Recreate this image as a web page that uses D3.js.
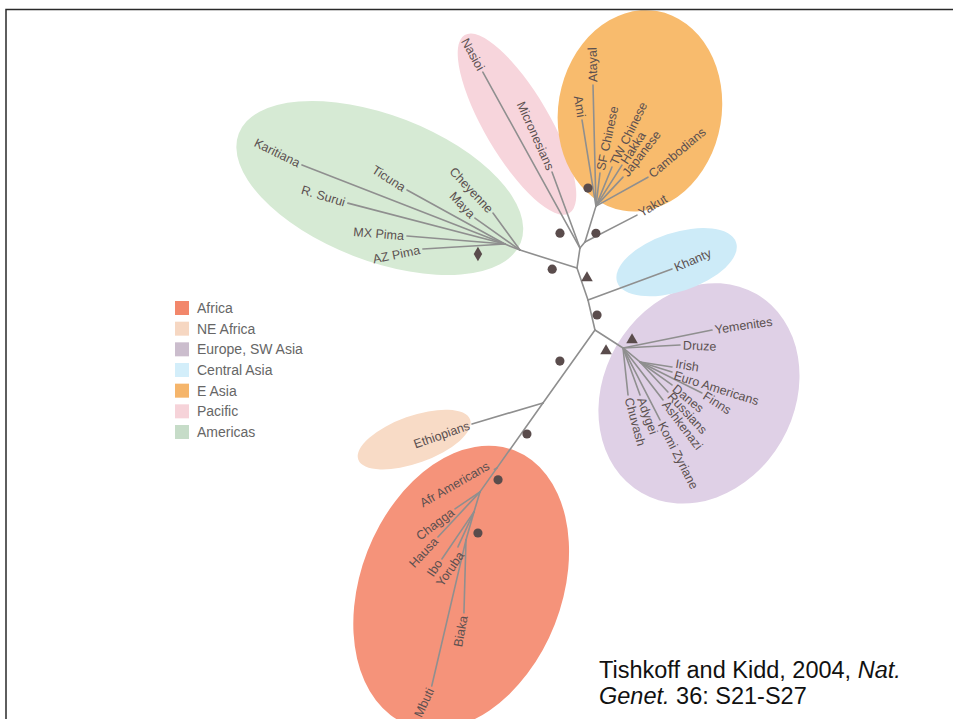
<!DOCTYPE html>
<html>
<head>
<meta charset="utf-8">
<script src="https://cdn.jsdelivr.net/npm/d3@7"></script>
<style>
  body { margin: 0; background: #fff; }
  svg { display: block; font-family: "Liberation Sans", Arial, sans-serif; }
</style>
</head>
<body>
<svg id="chart" width="953" height="719"></svg>
<script>
// ---- data -------------------------------------------------------------

// population groups, legend order
const groups = ["Africa", "NE Africa", "Europe, SW Asia", "Central Asia", "E Asia", "Pacific", "Americas"];

// internal nodes of the unrooted tree: [id, parent, branch length, direction (deg, ccw from east)]
const innerNodes = [
  ["R", null, 0, 0],
  ["N1", "R", 0.338, 109.0],
  ["N2", "N1", 0.202, 81.5],
  ["N3", "N2", 0.078, 50.2],
  ["EAhub", "N3", 0.376, 73.0],
  ["AM1", "N1", 0.598, 162.5],
  ["AM2", "AM1", 0.162, 158.2],
  ["N4", "R", 0.308, -76.9],
  ["EU", "N4", 0.333, -32.7],
  ["EU2", "EU", 0.220, -39.5],
  ["E", "N4", 0.896, 234.5],
  ["M", "E", 0.796, 234.7],
  ["AF1", "M", 0.294, 234.7],
  ["AF2", "AF1", 0.209, 253.3],
  ["AF3", "AF2", 0.291, 254.1]
];
const innerGroup = {
  EAhub: "E Asia", AM1: "Americas", AM2: "Americas",
  EU: "Europe, SW Asia", EU2: "Europe, SW Asia",
  M: "Africa", AF1: "Africa", AF2: "Africa", AF3: "Africa"
};

// populations (leaves): [name, parent, branch length, direction, group]
const leaves = [
  ["Nasioi", "N2", 2.010, 118.9, "Pacific"],
  ["Micronesians", "N2", 0.810, 110.2, "Pacific"],
  ["Yakut", "N3", 0.586, 27.4, "E Asia"],
  ["Atayal", "EAhub", 1.210, 91.4, "E Asia"],
  ["Ami", "EAhub", 0.871, 99.2, "E Asia"],
  ["SF Chinese", "EAhub", 0.332, 83.1, "E Asia"],
  ["TW Chinese", "EAhub", 0.422, 67.7, "E Asia"],
  ["Hakka", "EAhub", 0.485, 57.6, "E Asia"],
  ["Japanese", "EAhub", 0.396, 47.0, "E Asia"],
  ["Cambodians", "EAhub", 0.595, 29.1, "E Asia"],
  ["Khanty", "R", 0.895, 20.3, "Central Asia"],
  ["Cheyenne", "AM1", 0.458, 126.1, "Americas"],
  ["Maya", "AM1", 0.552, 144.6, "Americas"],
  ["Karitiana", "AM2", 2.178, 158.7, "Americas"],
  ["Ticuna", "AM2", 1.119, 151.1, "Americas"],
  ["R. Surui", "AM2", 1.623, 165.4, "Americas"],
  ["MX Pima", "AM2", 0.983, 175.3, "Americas"],
  ["AZ Pima", "AM2", 0.822, 183.5, "Americas"],
  ["Yemenites", "EU", 0.908, 11.4, "Europe, SW Asia"],
  ["Druze", "EU", 0.571, 3.0, "Europe, SW Asia"],
  ["Irish", "EU2", 0.324, -8.9, "Europe, SW Asia"],
  ["Euro Americans", "EU2", 0.335, -17.4, "Europe, SW Asia"],
  ["Finns", "EU2", 0.693, -26.6, "Europe, SW Asia"],
  ["Danes", "EU2", 0.394, -35.7, "Europe, SW Asia"],
  ["Russians", "EU2", 0.410, -47.0, "Europe, SW Asia"],
  ["Ashkenazi", "EU", 0.656, -52.4, "Europe, SW Asia"],
  ["Komi Zyriane", "EU", 0.809, -62.8, "Europe, SW Asia"],
  ["Adygei", "EU", 0.500, -70.1, "Europe, SW Asia"],
  ["Chuvash", "EU", 0.473, -83.9, "Europe, SW Asia"],
  ["Ethiopians", "E", 0.740, 196.5, "NE Africa"],
  ["Afr Americans", "M", 0.030, 210.0, "Africa"],
  ["Chagga", "AF1", 0.302, 214.2, "Africa"],
  ["Hausa", "AF1", 0.616, 227.0, "Africa"],
  ["Ibo", "AF2", 0.569, 235.7, "Africa"],
  ["Yoruba", "AF2", 0.385, 245.4, "Africa"],
  ["Biaka", "AF3", 0.730, 268.4, "Africa"],
  ["Mbuti", "AF3", 1.500, 256.8, "Africa"]
];

// branch support symbols: [branch (child node), symbol]
const supportMarks = [
  ["Nasioi", "circle"], ["EAhub", "circle"], ["Ami", "circle"], ["AM1", "circle"],
  ["N1", "triangle"], ["N4", "circle"], ["Yemenites", "triangle"], ["EU", "triangle"],
  ["E", "circle"], ["M", "circle"], ["AF1", "circle"], ["AF3", "circle"],
  ["AZ Pima", "diamond"]
];

const citeLine1 = [["Tishkoff and Kidd, 2004, ", "normal"], ["Nat.", "italic"]];
const citeLine2 = [["Genet.", "italic"], [" 36: S21-S27", "normal"]];

// ---- styles / layout --------------------------------------------------

const fillOf = {
  "Africa": "#f5937a", "NE Africa": "#f8dbc6", "Europe, SW Asia": "#dfd0e6",
  "Central Asia": "#cdebf8", "E Asia": "#f8bb6d", "Pacific": "#f7d5dc", "Americas": "#d6ead4"
};
const legendFill = {
  "Africa": "#f2876b", "NE Africa": "#f6d7c2", "Europe, SW Asia": "#cbbdcd",
  "Central Asia": "#d3eefa", "E Asia": "#f5b56b", "Pacific": "#f6d3d9", "Americas": "#c6dcc8"
};
// hull drawing order and fitting tweaks: radius pads [main, across], centre shift, extra turn (deg)
const hullOrder = ["Americas", "Pacific", "E Asia", "Europe, SW Asia", "Central Asia", "Africa", "NE Africa"];
const hullStyle = {
  "Americas":        { pad: [-13, 4],    shift: [-4, -19], turn: 6,    stem: 0 },
  "Pacific":         { pad: [-3, 14],    shift: [5, 21.5], turn: 4,    stem: 0 },
  "E Asia":          { pad: [-6.5, 3.3], shift: [8, -15],  turn: 34,   stem: 0 },
  "Central Asia":    { pad: [-11.6, 18.5], shift: [14, -10], turn: 3,  stem: 0.3 },
  "Europe, SW Asia": { pad: [-15, -2],   shift: [7, 18],   turn: -6,   stem: 0 },
  "NE Africa":       { pad: [16, 13.6],  shift: [-29, 5],  turn: 0,    stem: 0 },
  "Africa":          { pad: [-37, 50],   shift: [22, 1],   turn: 11.5, stem: 0 }
};
// support symbol placement: fraction along branch, perpendicular offset (px)
const markerPlace = {
  Nasioi: [0.113, -10.3], EAhub: [0.31, 7.9], Ami: [0.219, -5.0], AM1: [0.39, -8.5],
  N1: [0.625, 6.2], N4: [0.54, -5.4], Yemenites: [0.115, -6.1], EU: [0.62, 11.7],
  E: [0.51, 10.5], M: [0.435, -4.9], AF1: [0.31, -7.8], AF3: [0.66, -9.6], "AZ Pima": [0.335, -8.3]
};
// extra label rotation (deg) where the label doesn't follow its branch
const labelTilt = {
  Karitiana: 5, Ticuna: 4, "R. Surui": 2, Cheyenne: -7, Maya: 11, "AZ Pima": -8,
  Micronesians: -4, "SF Chinese": 5, "TW Chinese": 4, Japanese: -5, Cambodians: -11, Yakut: -4,
  Khanty: -3, Yemenites: 3, Druze: 5, Finns: 6, Danes: 4, Chuvash: -9,
  Ethiopians: -3, Chagga: -3, Yoruba: 10, Biaka: 9, Mbuti: 12
};
const labelShift = { "Afr Americans": -7, Yoruba: 6, Ibo: -1, Irish: -4, "Euro Americans": 2 };

const branchColor = "#8f8f8f";
const inkColor = "#5b5050";
const labelSize = 12.5;

// ---- layout of tree ---------------------------------------------------

const svg = d3.select("#chart");
const W = +svg.attr("width"), H = +svg.attr("height");

// tree units -> pixels (100 px per unit, root at the Khanty junction)
const x = d3.scaleLinear().domain([-3, 3.65]).range([288, 953]);
const y = d3.scaleLinear().domain([-3, 4.19]).range([600, -119]);

const table = innerNodes.map(d => ({ id: d[0], parent: d[1], len: d[2], ang: d[3], group: innerGroup[d[0]] || null, leaf: false }))
  .concat(leaves.map(d => ({ id: d[0], parent: d[1], len: d[2], ang: d[3], group: d[4], leaf: true })));

const root = d3.stratify().id(d => d.id).parentId(d => d.parent)(table);
root.tx = 0; root.ty = 0;
root.eachBefore(n => {
  if (!n.parent) return;
  const a = n.data.ang * Math.PI / 180;
  n.tx = n.parent.tx + n.data.len * Math.cos(a);
  n.ty = n.parent.ty + n.data.len * Math.sin(a);
});
root.each(n => { n.px = x(n.tx); n.py = y(n.ty); });
const byId = new Map(root.descendants().map(n => [n.id, n]));

const hullLayer = svg.append("g");
const branchLayer = svg.append("g");
const markLayer = svg.append("g");
const labelLayer = svg.append("g");

// branches
branchLayer.selectAll("line")
  .data(root.descendants().filter(n => n.parent))
  .join("line")
  .attr("x1", n => n.parent.px).attr("y1", n => n.parent.py)
  .attr("x2", n => n.px).attr("y2", n => n.py)
  .attr("stroke", branchColor)
  .attr("stroke-width", 1.6)
  .attr("stroke-linecap", "round");

// leaf labels
const gap = 3;
const leafNodes = root.leaves();
leafNodes.forEach(n => {
  let a = ((n.data.ang % 360) + 360) % 360;
  const left = a > 92 && a <= 270;
  n.rot = (left ? 180 - a : -a) + (labelTilt[n.id] || 0);
  n.anchor = left ? "end" : "start";
});

const labels = labelLayer.selectAll("text")
  .data(leafNodes)
  .join("text")
  .attr("transform", n => `translate(${n.px},${n.py}) rotate(${n.rot})`)
  .attr("x", n => n.anchor === "end" ? -gap : gap)
  .attr("y", n => labelShift[n.id] || 0)
  .attr("dy", "0.35em")
  .attr("text-anchor", n => n.anchor)
  .attr("font-size", labelSize)
  .attr("fill", inkColor)
  .text(n => n.id);

// support symbols
const symType = { circle: d3.symbolCircle, triangle: d3.symbolTriangle, diamond: d3.symbolDiamond };
const symSize = { circle: 66, triangle: 58, diamond: 62 };
markLayer.selectAll("path")
  .data(supportMarks)
  .join("path")
  .attr("d", d => d3.symbol(symType[d[1]], symSize[d[1]])())
  .attr("fill", "#5a4c4c")
  .attr("transform", d => {
    const n = byId.get(d[0]), p = n.parent;
    const [t, side] = markerPlace[d[0]];
    const dx = n.px - p.px, dy = n.py - p.py, L = Math.hypot(dx, dy);
    const ux = dx / L, uy = dy / L;
    return `translate(${p.px + t * dx - side * uy},${p.py + t * dy + side * ux})`;
  });

// ---- group hulls (ellipses fitted round each group's nodes + labels) ---

function fitEllipse(pts) {
  const mx = d3.mean(pts, p => p[0]), my = d3.mean(pts, p => p[1]);
  let sxx = 0, syy = 0, sxy = 0;
  pts.forEach(([px, py]) => { const dx = px - mx, dy = py - my; sxx += dx * dx; syy += dy * dy; sxy += dx * dy; });
  const th = 0.5 * Math.atan2(2 * sxy, sxx - syy);
  const c = Math.cos(th), s = Math.sin(th);
  const uv = pts.map(([px, py]) => [(px - mx) * c + (py - my) * s, -(px - mx) * s + (py - my) * c]);
  const [u0, u1] = d3.extent(uv, d => d[0]), [v0, v1] = d3.extent(uv, d => d[1]);
  const cu = (u0 + u1) / 2, cv = (v0 + v1) / 2;
  const a = Math.max((u1 - u0) / 2, 1), b = Math.max((v1 - v0) / 2, 1);
  const k = d3.max(uv, ([u, v]) => Math.hypot((u - cu) / a, (v - cv) / b));
  return { cx: mx + cu * c - cv * s, cy: my + cu * s + cv * c, rx: a * k, ry: b * k, rot: th * 180 / Math.PI };
}

const groupPts = new Map(groups.map(g => [g, []]));
root.descendants().forEach(n => {
  if (n.data.group && !n.data.leaf) groupPts.get(n.data.group).push([n.px, n.py]);
});
labels.each(function (n) {
  const pts = groupPts.get(n.data.group);
  pts.push([n.px, n.py]);
  const st = hullStyle[n.data.group].stem;
  if (st > 0) pts.push([n.parent.px + st * (n.px - n.parent.px), n.parent.py + st * (n.py - n.parent.py)]);
  const bb = this.getBBox();
  const r = n.rot * Math.PI / 180, c = Math.cos(r), s = Math.sin(r);
  [[bb.x, bb.y], [bb.x + bb.width, bb.y], [bb.x, bb.y + bb.height], [bb.x + bb.width, bb.y + bb.height]]
    .forEach(([bx, by]) => pts.push([n.px + bx * c - by * s, n.py + bx * s + by * c]));
});

const hulls = hullOrder.map(g => {
  const e = fitEllipse(groupPts.get(g));
  const hs = hullStyle[g];
  return {
    group: g,
    cx: e.cx + hs.shift[0], cy: e.cy + hs.shift[1],
    rx: e.rx + hs.pad[0], ry: e.ry + hs.pad[1],
    rot: e.rot + hs.turn
  };
});

hullLayer.selectAll("ellipse")
  .data(hulls)
  .join("ellipse")
  .attr("cx", d => d.cx).attr("cy", d => d.cy)
  .attr("rx", d => d.rx).attr("ry", d => d.ry)
  .attr("transform", d => `rotate(${d.rot},${d.cx},${d.cy})`)
  .attr("fill", d => fillOf[d.group]);

// ---- legend -------------------------------------------------------------

const legendY = d3.scalePoint().domain(groups).range([308, 432]);
const legend = svg.append("g");
legend.selectAll("rect")
  .data(groups)
  .join("rect")
  .attr("x", 175).attr("y", d => legendY(d) - 7)
  .attr("width", 14).attr("height", 14)
  .attr("fill", d => legendFill[d]);
legend.selectAll("text")
  .data(groups)
  .join("text")
  .attr("x", 197).attr("y", d => legendY(d))
  .attr("dy", "0.35em")
  .attr("font-size", 14)
  .attr("fill", "#666")
  .text(d => d);

// ---- citation ------------------------------------------------------------

const cite = svg.append("text")
  .attr("font-size", 23.5)
  .attr("fill", "#111");
[[citeLine1, 678], [citeLine2, 704]].forEach(([parts, by]) => {
  parts.forEach((p, i) => {
    const ts = cite.append("tspan").attr("font-style", p[1]).text(p[0]);
    if (i === 0) ts.attr("x", 599).attr("y", by);
  });
});

// ---- frame ---------------------------------------------------------------

svg.append("path")
  .attr("d", `M6,${H} V9.5 H${W}`)
  .attr("fill", "none")
  .attr("stroke", "#2a2a2a")
  .attr("stroke-width", 1.5);
</script>
</body>
</html>
